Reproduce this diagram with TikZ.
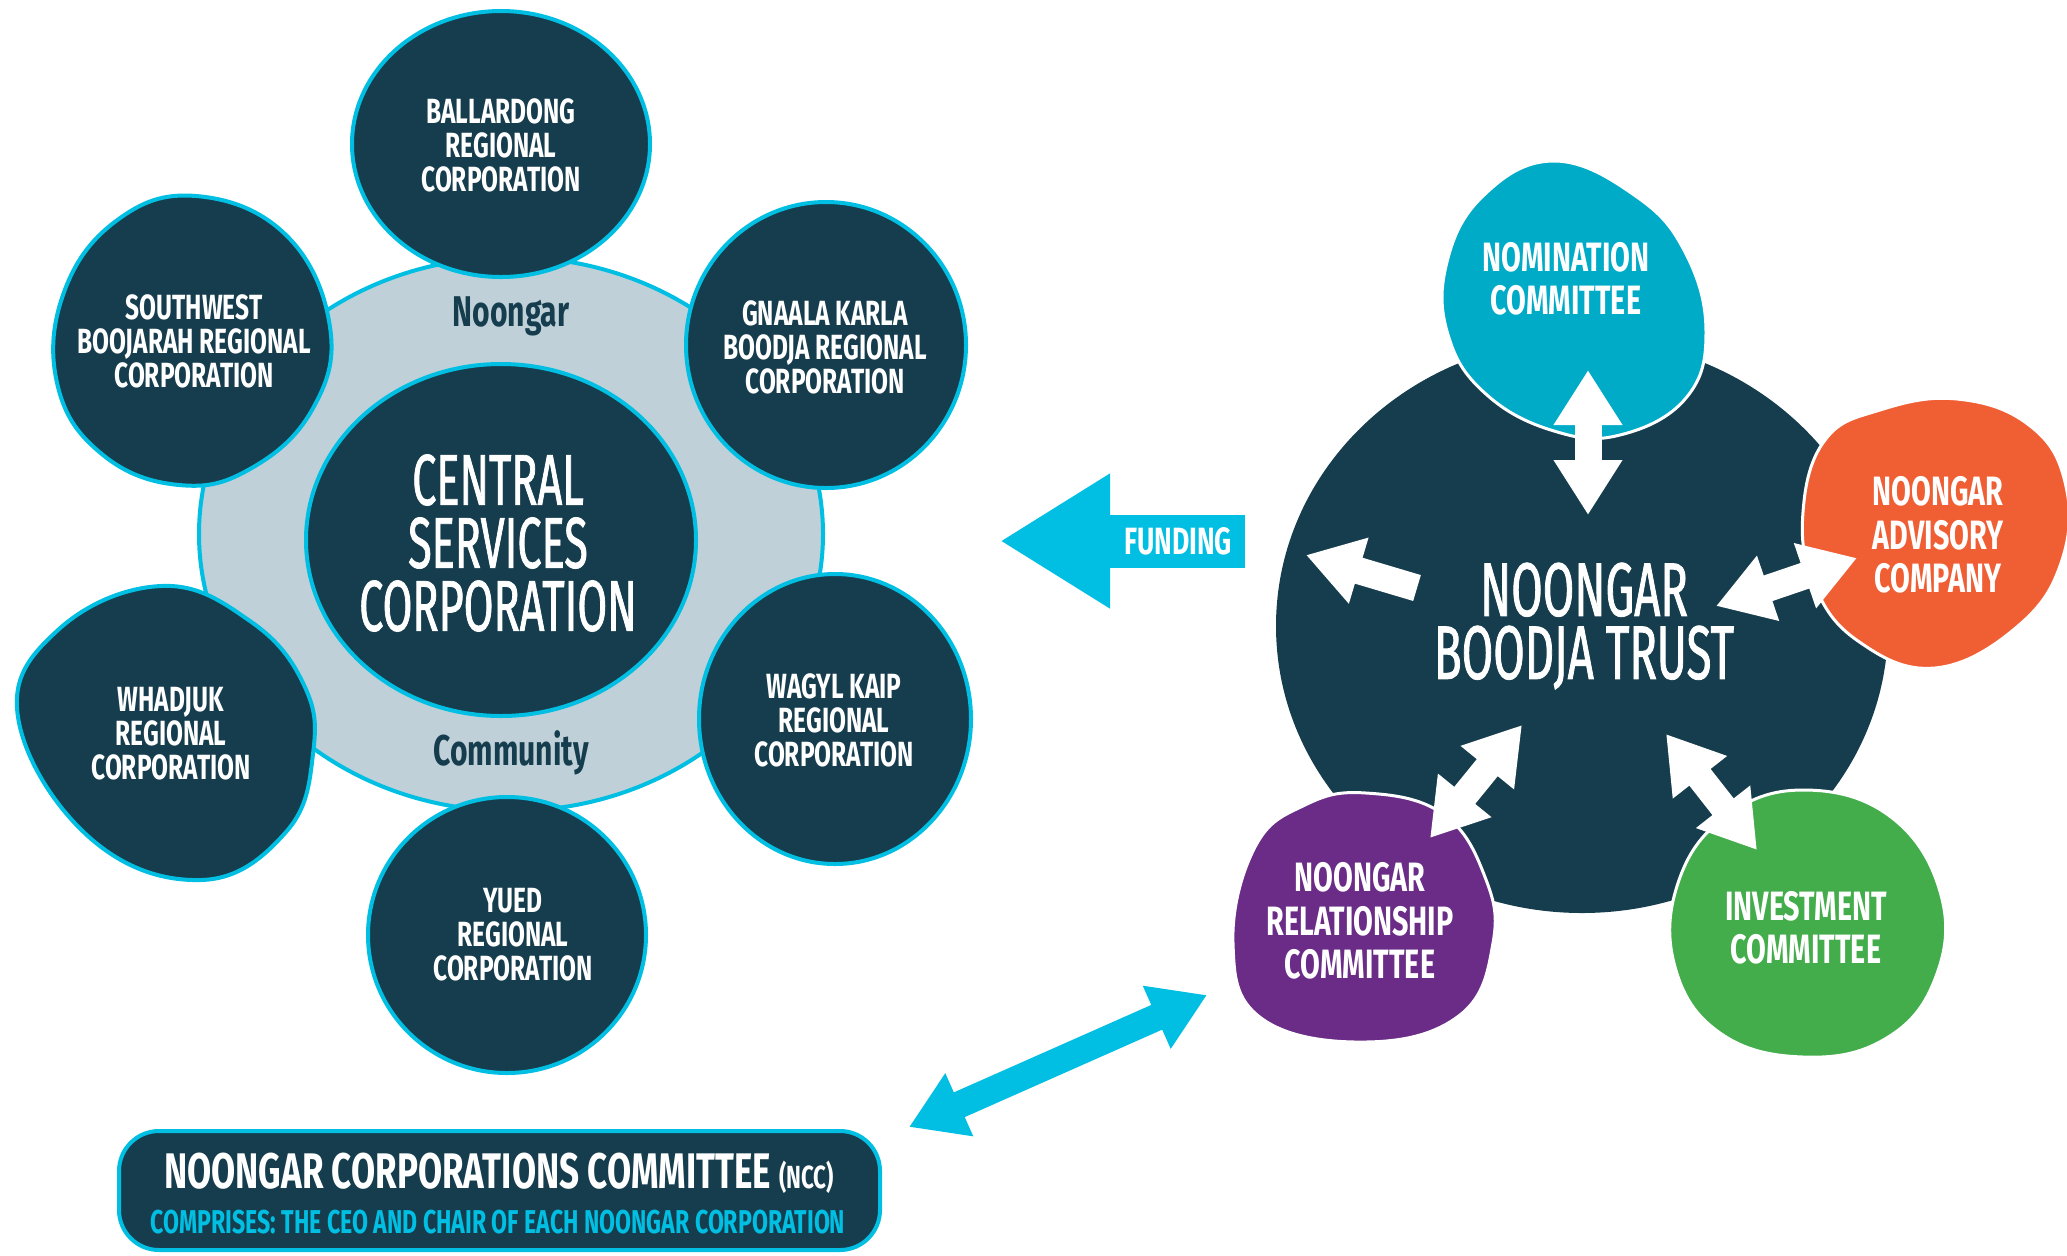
\documentclass[tikz,border=0pt]{standalone}
\usepackage{fontspec}
\setmainfont{Fira Sans}[FakeStretch=0.7]
\newfontfamily\handfont{Fira Sans}[FakeStretch=0.6, FakeBold=1]
\usetikzlibrary{shapes.geometric,arrows.meta}
\definecolor{dark}{HTML}{163D4D}
\definecolor{ringcol}{HTML}{BFD0D9}
\definecolor{cyanline}{HTML}{00BFE3}
\definecolor{nomcol}{HTML}{00ABC7}
\definecolor{orangecol}{HTML}{F05E33}
\definecolor{purplecol}{HTML}{6A2C86}
\definecolor{greencol}{HTML}{42AD4A}
\tikzset{
  corpshape/.style={fill=dark, draw=cyanline, line width=2pt},
  corptext/.style={text=white, align=center, inner sep=0pt, font=\bfseries\fontsize{17.5}{17}\selectfont},
  cmteshape/.style={draw=white, line width=1.5pt},
  cmtetext/.style={text=white, align=center, inner sep=0pt, font=\bfseries\fontsize{20.5}{21.75}\selectfont},
  ringlabel/.style={text=dark, inner sep=0pt, font=\bfseries\fontsize{21.5}{21.5}\selectfont},
  bigtext/.style={text=white, align=center, inner sep=0pt},
  dblarrow/.style={line width=13.5pt, {Triangle[length=27.5pt,width=32.5pt]}-{Triangle[length=27.5pt,width=32.5pt]}},
  sglarrow/.style={line width=13.5pt, -{Triangle[length=27.5pt,width=32.5pt]}},
  blob/.style={smooth cycle, tension=0.7},
}
\begin{document}
\begin{tikzpicture}[x=0.5pt,y=-0.5pt]
\useasboundingbox (0,0) rectangle (2067,1255);

% ---------- left cluster ----------
\node[ellipse, fill=ringcol, draw=cyanline, line width=2pt, minimum width=312pt, minimum height=277pt, inner sep=0pt] (ring) at (511,534) {};
\node[ringlabel] (noongarlbl) at (511,316) {Noongar};
\node[ringlabel] (communitylbl) at (511,753) {Community};

\draw[corpshape] (501,540) ellipse [x radius=97.5pt, y radius=88pt];
\node[bigtext, font=\handfont\fontsize{36}{31.5}\selectfont] (centraltext) at (498,543) {CENTRAL\\SERVICES\\CORPORATION};

\draw[corpshape] (501,144) ellipse [x radius=74.5pt, y radius=66.5pt];
\node[corptext] (ballardong) at (501,145) {BALLARDONG\\REGIONAL\\CORPORATION};
\draw[corpshape] (826,345) ellipse [x radius=70pt, y radius=71.5pt];
\node[corptext] (gnaala) at (825,347) {GNAALA KARLA\\BOODJA REGIONAL\\CORPORATION};
\draw[corpshape] (835,719) ellipse [x radius=68pt, y radius=72.5pt];
\node[corptext] (wagyl) at (834,720) {WAGYL KAIP\\REGIONAL\\CORPORATION};
\draw[corpshape] (507,935) ellipse [x radius=69.5pt, y radius=69pt];
\node[corptext] (yued) at (513,935) {YUED\\REGIONAL\\CORPORATION};
\draw[corpshape] plot[blob] coordinates {(161,586) (250,621) (304,685) (313,754) (286,832) (201,880) (89,837) (18,717) (58,630)};
\node[corptext] (whadjuk) at (171,734) {WHADJUK\\REGIONAL\\CORPORATION};
\draw[corpshape] plot[blob] coordinates {(196,196) (286,235) (330,327) (312,410) (250,469) (179,485) (103,455) (58,387) (63,295) (116,221)};
\node[corptext] (southwest) at (194,341) {SOUTHWEST\\BOOJARAH REGIONAL\\CORPORATION};

% ---------- right cluster ----------
\fill[dark] (1582,626) ellipse [x radius=153pt, y radius=143.5pt];
\node[bigtext, font=\handfont\fontsize{38}{31.5}\selectfont] (trust) at (1584,626) {NOONGAR\\BOODJA TRUST};

\draw[cmteshape, fill=nomcol] plot[blob] coordinates {(1554,161) (1637,197) (1686,254) (1706,332) (1686,398) (1620,435) (1554,431) (1487,395) (1449,338) (1446,266) (1482,197)};
\node[cmtetext] (nomination) at (1566,279) {NOMINATION\\COMMITTEE};
\begin{scope}
\clip (0,0) rectangle (2067,1255);
\draw[cmteshape, fill=orangecol] plot[blob] coordinates {(1957,399) (2029,425) (2065,482) (2062,560) (2018,626) (1935,668) (1858,641) (1814,584) (1803,512) (1825,440) (1880,410)};
\end{scope}
\node[cmtetext] (advisory) at (1938,535) {NOONGAR\\ADVISORY\\COMPANY};
\draw[cmteshape, fill=greencol] plot[blob] coordinates {(1803,790) (1891,817) (1941,895) (1935,979) (1885,1039) (1803,1057) (1720,1033) (1675,967) (1678,883) (1725,817)};
\node[cmtetext] (investment) at (1806,928) {INVESTMENT\\COMMITTEE};
\draw[cmteshape, fill=purplecol] plot[blob] coordinates {(1366,793) (1443,814) (1485,877) (1493,943) (1460,1015) (1366,1042) (1261,1018) (1233,943) (1255,847) (1305,805)};
\node[cmtetext] (relationship) at (1360,921) {NOONGAR\\RELATIONSHIP\\COMMITTEE};

% white arrows
\coordinate (nomA) at (1588,370);
\coordinate (nomB) at (1588,515);
\coordinate (advA) at (1716,606);
\coordinate (advB) at (1857,558);
\coordinate (relA) at (1522,725);
\coordinate (relB) at (1430,838);
\coordinate (invA) at (1666,734);
\coordinate (invB) at (1757,850);
\coordinate (outA) at (1417,588);
\coordinate (outB) at (1306,555);
\draw[dblarrow, white] (nomA) -- (nomB);
\draw[dblarrow, white] (advA) -- (advB);
\draw[dblarrow, white] (relA) -- (relB);
\draw[dblarrow, white] (invA) -- (invB);
\draw[sglarrow, white] (outA) -- (outB);

% funding arrow
\coordinate (fundA) at (1245,541);
\coordinate (fundB) at (1000,541);
\draw[cyanline, line width=26.5pt, -{Triangle[length=55pt,width=63.5pt]}] (fundA) -- (fundB);
\node[text=white, inner sep=0pt, font=\bfseries\fontsize{19}{19}\selectfont] (funding) at (1178,541) {FUNDING};

% NCC
\node[rectangle, rounded corners=20pt, fill=dark, draw=cyanline, line width=2pt, minimum width=380.5pt, minimum height=59.5pt, inner sep=0pt] (ncc) at (499.5,1190.5) {};
\node[text=white, inner sep=0pt, font=\bfseries\fontsize{25}{25}\selectfont] (ncctitle) at (499,1173) {NOONGAR CORPORATIONS COMMITTEE\,{\fontsize{16}{16}\selectfont(NCC)}};
\node[text=cyanline, inner sep=0pt, font=\bfseries\fontsize{16.5}{16.5}\selectfont] (ncctext) at (498,1222) {COMPRISES: THE CEO AND CHAIR OF EACH NOONGAR CORPORATION};

\coordinate (nccA) at (909,1127);
\coordinate (nccB) at (1207,995);
\draw[dblarrow, cyanline] (nccA) -- (nccB);
\end{tikzpicture}
\end{document}
